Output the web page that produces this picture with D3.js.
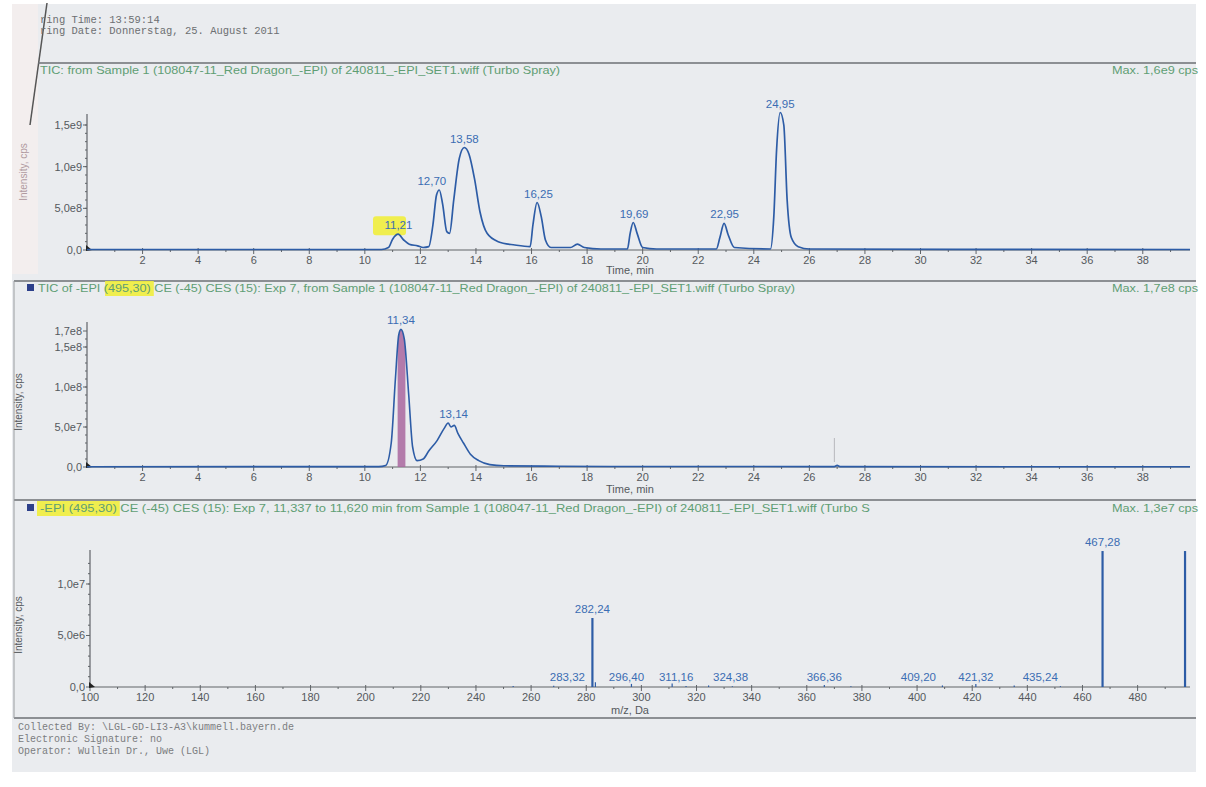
<!DOCTYPE html>
<html><head><meta charset="utf-8">
<script src="https://cdn.jsdelivr.net/npm/d3@7"></script>
<style>
html,body{margin:0;padding:0;background:#fff;}
svg{display:block;}
text{font-family:"Liberation Sans",Arial,sans-serif;}
.mono{font-family:"Liberation Mono","DejaVu Sans Mono",monospace;}
</style></head>
<body>
<script>
// ---------------- DATA ----------------
const headerLines = ["ring Time: 13:59:14", "ring Date: Donnerstag, 25. August 2011"];
const footerLines = ["Collected By: \\LGL-GD-LI3-A3\\kummell.bayern.de", "Electronic Signature: no", "Operator: Wullein Dr., Uwe (LGL)"];

const title1 = "TIC: from Sample 1 (108047-11_Red Dragon_-EPI) of 240811_-EPI_SET1.wiff (Turbo Spray)";
const max1 = "Max. 1,6e9 cps";
const title2a = "TIC of -EPI (", title2hl = "495,30)", title2b = " CE (-45) CES (15): Exp 7, from Sample 1 (108047-11_Red Dragon_-EPI) of 240811_-EPI_SET1.wiff (Turbo Spray)";
const max2 = "Max. 1,7e8 cps";
const title3hl = "-EPI (495,30)", title3b = " CE (-45) CES (15): Exp 7, 11,337 to 11,620 min from Sample 1 (108047-11_Red Dragon_-EPI) of 240811_-EPI_SET1.wiff (Turbo S";
const max3 = "Max. 1,3e7 cps";

// Panel 1: TIC (time in min, intensity in cps)
const tic1Time = [0,10.6,10.85,11.0,11.2,11.4,11.6,11.9,12.1,12.3,12.45,12.58,12.68,12.8,12.95,13.05,13.2,13.4,13.58,13.75,13.95,14.15,14.4,14.8,15.4,15.95,16.05,16.2,16.35,16.5,16.7,17.4,17.65,17.9,18.5,19.45,19.55,19.66,19.8,20.0,20.5,22.65,22.78,22.93,23.08,23.3,24.6,24.72,24.82,24.95,25.08,25.2,25.35,25.6,26.0,39.7];
const tic1Int  = [0.006e9,0.006e9,0.03e9,0.13e9,0.19e9,0.12e9,0.07e9,0.05e9,0.03e9,0.04e9,0.3e9,0.66e9,0.72e9,0.55e9,0.22e9,0.2e9,0.6e9,1.1e9,1.23e9,1.15e9,0.85e9,0.45e9,0.2e9,0.1e9,0.06e9,0.04e9,0.3e9,0.57e9,0.4e9,0.12e9,0.03e9,0.03e9,0.07e9,0.03e9,0.012e9,0.012e9,0.2e9,0.33e9,0.2e9,0.03e9,0.012e9,0.012e9,0.15e9,0.32e9,0.18e9,0.03e9,0.012e9,0.4e9,1.2e9,1.65e9,1.5e9,0.6e9,0.15e9,0.04e9,0.012e9,0.006e9];
const peaks1Time = [11.21,12.70,13.58,16.25,19.69,22.95,24.95];
const peaks1Lbl  = ["11,21","12,70","13,58","16,25","19,69","22,95","24,95"];
const peaks1Int  = [0.19e9,0.72e9,1.23e9,0.57e9,0.33e9,0.32e9,1.65e9];

// Panel 2: XIC of -EPI 495.30
const tic2Time = [0,10.5,10.75,10.95,11.1,11.22,11.3,11.42,11.58,11.72,11.88,12.1,12.3,12.6,12.85,13.0,13.1,13.22,13.35,13.55,13.8,14.1,14.5,15.0,17.0,20.0,26.9,27.0,27.1,39.7];
const tic2Int  = [0.003e8,0.005e8,0.02e8,0.3e8,1.1e8,1.65e8,1.72e8,1.6e8,0.9e8,0.25e8,0.08e8,0.1e8,0.2e8,0.33e8,0.48e8,0.55e8,0.5e8,0.52e8,0.42e8,0.3e8,0.16e8,0.08e8,0.03e8,0.015e8,0.01e8,0.006e8,0.005e8,0.02e8,0.005e8,0.003e8];
const peaks2Time = [11.30,13.05];
const peaks2Lbl  = ["11,34","13,14"];
const peaks2Int  = [1.72e8,0.55e8];
const band2 = [11.18,11.46];

// Panel 3: spectrum (m/z, intensity)
const specMz  = [253.5,268.2,283.32,282.24,296.40,311.16,316.2,324.38,333.0,366.36,376.0,409.20,421.32,435.24,452.0,467.28,497.2];
const specInt = [0.1e6,0.12e6,0.45e6,6.7e6,0.3e6,0.35e6,0.1e6,0.15e6,0.08e6,0.2e6,0.08e6,0.15e6,0.3e6,0.15e6,0.08e6,13.2e6,13.2e6];
const specLblMz = [283.32,282.24,296.40,311.16,324.38,366.36,409.20,421.32,435.24,467.28];
const specLbl   = ["283,32","282,24","296,40","311,16","324,38","366,36","409,20","421,32","435,24","467,28"];
const specLblInt= [0.45e6,6.7e6,0.3e6,0.35e6,0.15e6,0.2e6,0.15e6,0.3e6,0.15e6,13.2e6];
const specLblDx = [-28,0,-5,4,22,0,-24,0,26,0];

const timeTicks = [2,4,6,8,10,12,14,16,18,20,22,24,26,28,30,32,34,36,38];
const y1Ticks = [0,5e8,1e9,1.5e9], y1Lbl = ["0,0","5,0e8","1,0e9","1,5e9"];
const y2Ticks = [0,5e7,1e8,1.5e8,1.7e8], y2Lbl = ["0,0","5,0e7","1,0e8","1,5e8","1,7e8"];
const mzTicks = [100,120,140,160,180,200,220,240,260,280,300,320,340,360,380,400,420,440,460,480];
const y3Ticks = [0,5e6,1e7], y3Lbl = ["0,0","5,0e6","1,0e7"];

// ---------------- DRAW ----------------
const W=1206,H=787;
const svg=d3.select("body").append("svg").attr("width",W).attr("height",H);
const TRACE="#2d5ca6", LBL="#3b6db3", AX="#606468", TXT="#55595d", GREEN="#5f9e74";

svg.append("rect").attr("x",0).attr("y",0).attr("width",W).attr("height",H).attr("fill","#fff");
svg.append("rect").attr("x",12).attr("y",4).attr("width",1184).attr("height",768).attr("fill","#eaecef");
svg.append("rect").attr("x",12).attr("y",4).attr("width",26).attr("height",270).attr("fill","#f3eeee");
svg.append("line").attr("x1",47).attr("y1",3).attr("x2",30).attr("y2",125).attr("stroke","#555").attr("stroke-width",1.5);

// header/footer
headerLines.forEach((t,i)=>svg.append("text").attr("class","mono").attr("x",40).attr("y",23+i*11).attr("font-size",10.5).attr("fill","#6d6f72").text(t));
footerLines.forEach((t,i)=>svg.append("text").attr("class","mono").attr("x",18).attr("y",730+i*12).attr("font-size",10).attr("fill","#7b7d80").text(t));

// panel borders
[[38,63],[14,281],[14,500],[14,718]].forEach(([x0,y])=>svg.append("line").attr("x1",x0).attr("x2",1196).attr("y1",y).attr("y2",y).attr("stroke","#6d7074").attr("stroke-width",1.6));
svg.append("line").attr("x1",14).attr("x2",14).attr("y1",281).attr("y2",718).attr("stroke","#9a9da0").attr("stroke-width",1);

// titles
function title(y,parts,maxTxt,square,x0,len){
  if(square) svg.append("rect").attr("x",27).attr("y",y-8).attr("width",7).attr("height",7).attr("fill","#2c3f8a");
  const t=svg.append("text").attr("x",x0).attr("y",y).attr("font-size",11).attr("fill",GREEN)
    .attr("textLength",len).attr("lengthAdjust","spacingAndGlyphs");
  parts.forEach(p=>t.append("tspan").attr("class",p.hl?"hl":null).text(p.s));
  svg.append("text").attr("x",1198).attr("y",y).attr("text-anchor","end").attr("font-size",11).attr("fill",GREEN)
    .attr("textLength",86).attr("lengthAdjust","spacingAndGlyphs").text(maxTxt);
  t.selectAll("tspan").each(function(){
    if(this.getAttribute("class")==="hl"){
      const n=this.getNumberOfChars();
      const s=this.getStartPositionOfChar(0), e=this.getEndPositionOfChar(n-1);
      svg.insert("rect",function(){return t.node();}).attr("x",s.x-3).attr("y",y-11).attr("width",e.x-s.x+6).attr("height",15).attr("fill","#f1ee3c").attr("opacity",0.9);
    }
  });
  return t;
}
title(74,[{s:title1}],max1,false,40,520);
title(292,[{s:title2a},{s:title2hl,hl:true},{s:title2b}],max2,true,38,757);
title(512,[{s:title3hl,hl:true},{s:title3b}],max3,true,40,830);

// scales
const xT=d3.scaleLinear().domain([0,39.7]).range([87,1190]);
const y1=d3.scaleLinear().domain([0,1.62e9]).range([250,115]);
const y2=d3.scaleLinear().domain([0,1.7e8]).range([467,331]);
const xM=d3.scaleLinear().domain([100,499]).range([90,1190]);
const y3=d3.scaleLinear().domain([0,1.33e7]).range([687,550]);

function axes(x,y,xt,yt,ylbl,yTop,xLblTxt,xLblY,minorX,minorY,yTitle){
  const y0=y(0);
  svg.append("line").attr("x1",x.range()[0]).attr("x2",x.range()[1]).attr("y1",y0).attr("y2",y0).attr("stroke",AX).attr("stroke-width",1.2);
  svg.append("line").attr("x1",x.range()[0]).attr("x2",x.range()[0]).attr("y1",y0).attr("y2",yTop).attr("stroke",AX).attr("stroke-width",1.2);
  minorX.forEach(v=>svg.append("line").attr("x1",x(v)).attr("x2",x(v)).attr("y1",y0).attr("y2",y0+2).attr("stroke",AX));
  xt.forEach(v=>{
    svg.append("line").attr("x1",x(v)).attr("x2",x(v)).attr("y1",y0-2).attr("y2",y0+4).attr("stroke",AX);
    svg.append("text").attr("x",x(v)).attr("y",y0+14).attr("text-anchor","middle").attr("font-size",11).attr("fill",TXT).text(v);
  });
  minorY.forEach(v=>svg.append("line").attr("x1",x.range()[0]-2).attr("x2",x.range()[0]).attr("y1",y(v)).attr("y2",y(v)).attr("stroke",AX));
  yt.forEach((v,i)=>{
    svg.append("line").attr("x1",x.range()[0]-4).attr("x2",x.range()[0]).attr("y1",y(v)).attr("y2",y(v)).attr("stroke",AX);
    svg.append("text").attr("x",x.range()[0]-5).attr("y",y(v)+4).attr("text-anchor","end").attr("font-size",11).attr("fill",TXT).text(ylbl[i]);
  });
  svg.append("path").attr("d",`M${x.range()[0]-1},${y0-5} L${x.range()[0]+5},${y0} L${x.range()[0]-1},${y0+1} Z`).attr("fill","#222");
  svg.append("text").attr("x",630).attr("y",xLblY).attr("text-anchor","middle").attr("font-size",11).attr("fill",TXT).text(xLblTxt);
  if(yTitle) svg.append("text").attr("transform",`translate(${yTitle[0]},${yTitle[1]}) rotate(-90)`).attr("text-anchor","middle").attr("font-size",10).attr("fill",yTitle[2]).text("Intensity, cps");
}
const minorT=d3.range(1,40,1).filter(v=>v%2);
axes(xT,y1,timeTicks,y1Ticks,y1Lbl,114,"Time, min",274,minorT,d3.range(1e8,1.6e9,1e8),[27,172,"#b09aa0"]);
axes(xT,y2,timeTicks,y2Ticks,y2Lbl,322,"Time, min",493,minorT,d3.range(1e7,1.7e8,1e7),[22,402,TXT]);
axes(xM,y3,mzTicks,y3Ticks,y3Lbl,550,"m/z, Da",714,d3.range(110,499,10).filter(v=>v%20),d3.range(1e6,1.3e7,1e6),[22,625,TXT]);

// Panel 1 trace
const line1=d3.line().x(d=>xT(d[0])).y(d=>y1(d[1])).curve(d3.curveMonotoneX);
svg.append("rect").attr("x",373).attr("y",y1(0.19e9)-18).attr("width",33).attr("height",19).attr("rx",3).attr("fill","#f1ee3c").attr("opacity",0.9);
svg.append("path").attr("d",line1(d3.zip(tic1Time,tic1Int))).attr("fill","none").attr("stroke",TRACE).attr("stroke-width",1.7);
peaks1Time.forEach((t,i)=>{
  const dx = i===1?-8:0;
  svg.append("text").attr("x",xT(t)+dx).attr("y",y1(peaks1Int[i])-5).attr("text-anchor","middle").attr("font-size",11.5).attr("fill",LBL).text(peaks1Lbl[i]);
});

// Panel 2
const line2=d3.line().x(d=>xT(d[0])).y(d=>y2(d[1])).curve(d3.curveMonotoneX);
const area2=d3.area().x(d=>xT(d[0])).y0(y2(0)).y1(d=>y2(d[1])).curve(d3.curveMonotoneX);
svg.append("clipPath").attr("id","bandclip").append("rect").attr("x",xT(band2[0])).attr("y",0).attr("width",xT(band2[1])-xT(band2[0])).attr("height",H);
svg.append("path").attr("d",area2(d3.zip(tic2Time,tic2Int))).attr("clip-path","url(#bandclip)").attr("fill","#a9679f").attr("opacity",0.85);
svg.append("path").attr("d",line2(d3.zip(tic2Time,tic2Int))).attr("fill","none").attr("stroke",TRACE).attr("stroke-width",1.6);
peaks2Time.forEach((t,i)=>svg.append("text").attr("x",xT(t)+(i?4:0)).attr("y",y2(peaks2Int[i])-5).attr("text-anchor","middle").attr("font-size",11.5).attr("fill",LBL).text(peaks2Lbl[i]));
svg.append("line").attr("x1",xT(26.9)).attr("x2",xT(26.9)).attr("y1",438).attr("y2",462).attr("stroke","#b8b8bc").attr("stroke-width",1);

// Panel 3 spectrum
specMz.forEach((m,i)=>{
  svg.append("line").attr("x1",xM(m)).attr("x2",xM(m)).attr("y1",y3(0)).attr("y2",y3(specInt[i])).attr("stroke",TRACE).attr("stroke-width",specInt[i]>1e6?2.2:1.2);
});
specLblMz.forEach((m,i)=>{
  const big = specLblInt[i]>1e6;
  svg.append("text").attr("x",xM(m)+specLblDx[i]).attr("y",big?y3(specLblInt[i])-5:681).attr("text-anchor","middle").attr("font-size",11.5).attr("fill",LBL).text(specLbl[i]);
});
</script>
</body></html>
